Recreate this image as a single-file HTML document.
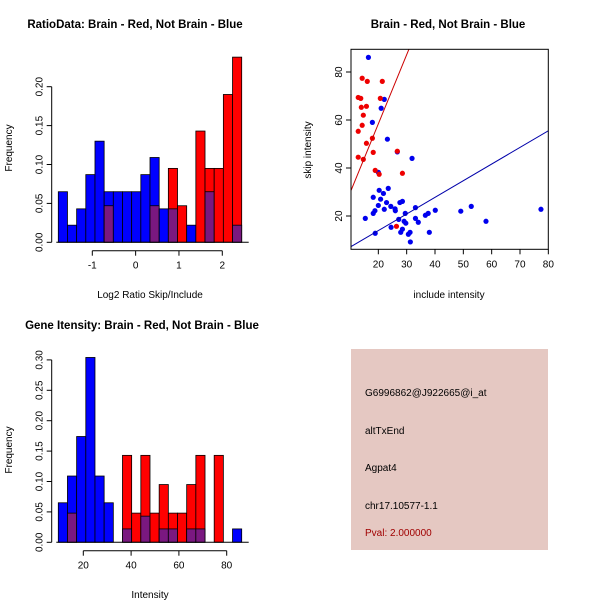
<!DOCTYPE html>
<html><head><meta charset="utf-8"><style>
body{margin:0;background:#fff}
svg{display:block;font-family:"Liberation Sans",sans-serif}
</style></head><body>
<svg id="c" width="600" height="600" xmlns="http://www.w3.org/2000/svg">
<rect width="600" height="600" fill="#fff"/>
<text x="135" y="28" font-size="11.5" font-weight="bold" text-anchor="middle">RatioData: Brain - Red, Not Brain - Blue</text>
<text x="448" y="28" font-size="11.5" font-weight="bold" text-anchor="middle">Brain - Red, Not Brain - Blue</text>
<text x="142" y="329" font-size="11.5" font-weight="bold" text-anchor="middle">Gene Itensity: Brain - Red, Not Brain - Blue</text>
<text x="150" y="298" font-size="10" text-anchor="middle">Log2 Ratio Skip/Include</text>
<text x="150" y="598" font-size="10" text-anchor="middle">Intensity</text>
<text x="449" y="298" font-size="10" text-anchor="middle">include intensity</text>
<text transform="translate(12,148) rotate(-90)" font-size="10" text-anchor="middle">Frequency</text>
<text transform="translate(12,450) rotate(-90)" font-size="10" text-anchor="middle">Frequency</text>
<text transform="translate(311,150) rotate(-90)" font-size="10" text-anchor="middle">skip intensity</text>
<g>
<rect x="351" y="349" width="197" height="201" fill="#e5c8c2"/>
<text x="365" y="396" font-size="10">G6996862@J922665@i_at</text>
<text x="365" y="434" font-size="10">altTxEnd</text>
<text x="365" y="471" font-size="10">Agpat4</text>
<text x="365" y="509" font-size="10">chr17.10577-1.1</text>
<text x="365" y="536" font-size="10" fill="#a00000">Pval: 2.000000</text>
</g>
</svg>
<script>
const ratioBlue=[0.065,0.022,0.043,0.087,0.13,0.065,0.065,0.065,0.065,0.087,0.109,0.043,0.043,0,0.022,0,0.065,0,0,0.022];
const ratioRed=[0,0,0,0,0,0.047,0,0,0,0,0.047,0,0.095,0.047,0,0.143,0.095,0.095,0.19,0.238];
const ratioYTicks=[0,0.05,0.10,0.15,0.20];
const ratioYLabels=["0.00","0.05","0.10","0.15","0.20"];
const ratioXTicks=[-1,0,1,2];
const intBlue=[0.065,0.109,0.174,0.304,0.109,0.065,0,0.022,0,0.043,0,0.022,0.022,0,0.022,0.022,0,0,0,0.022];
const intRed=[0,0.048,0,0,0,0,0,0.143,0.048,0.143,0.048,0.095,0.048,0.048,0.095,0.143,0,0.143,0,0];
const intYTicks=[0,0.05,0.10,0.15,0.20,0.25,0.30];
const intYLabels=["0.00","0.05","0.10","0.15","0.20","0.25","0.30"];
const intXTicks=[20,40,60,80];
const blueX=[16.5,22.1,21.0,17.9,23.2,26.7,31.9,20.0,23.5,20.3,21.8,18.2,20.8,28.5,27.6,22.9,20.0,24.4,33.1,25.9,26.0,22.1,18.8,18.2,29.5,40.1,37.6,36.6,49.1,52.8,77.4,58.0,33.1,34.1,27.2,29.1,29.7,15.4,24.5,28.5,27.9,18.9,31.2,30.6,38.0,31.3];
const blueY=[86.1,68.6,64.9,59.0,52.0,46.7,44.0,38.2,31.5,30.7,29.4,27.8,27.0,26.1,25.6,25.6,24.4,24.0,23.5,23.0,22.2,22.8,22.2,21.1,21.1,22.4,21.1,20.3,22.0,24.0,22.8,17.8,19.0,17.4,18.6,17.8,17.0,19.0,15.3,14.5,13.2,12.8,13.2,12.4,13.2,9.2];
const redX=[14.3,16.1,21.4,12.9,13.8,20.7,14.0,15.8,14.7,14.3,12.9,17.9,15.8,18.2,12.9,14.7,18.9,20.3,28.5,26.7,26.4];
const redY=[77.4,76.1,76.1,69.4,69.0,69.0,65.3,65.7,62.0,57.8,55.3,52.4,50.3,46.5,44.5,43.6,39.0,37.4,37.8,47.0,15.7];
const scXTicks=[20,30,40,50,60,70,80];
const scYTicks=[20,40,60,80];
const redLine=[2.88,0.8];
const blueLine=[0.693,0.06];

const svg=document.getElementById('c');const NS='http://www.w3.org/2000/svg';
function mk(t,a,p){const e=document.createElementNS(NS,t);for(const k in a)e.setAttribute(k,a[k]);(p||svg).appendChild(e);return e;}
function hist(name,blue,red,x0,ybase,bw,ppu,yTicks,yLabels,xTicks,xMap,axX,axY){
  const g=mk('g',{});
  
  
  const y=v=>ybase-v*ppu;
  blue.forEach((b,i)=>{const r=red[i];const x=x0+i*bw;const m=Math.min(b,r),M=Math.max(b,r);
    if(M<=0)return;
    const top=mk('rect',{x:x,y:y(M),width:bw,height:y(0)-y(M),fill:b>r?'#0000ff':'#ff0000',stroke:'#000','stroke-width':0.8},g);
    
    
    if(m>0){const o=mk('rect',{x:x,y:y(m),width:bw,height:y(0)-y(m),fill:'#7a1880',stroke:'#000','stroke-width':0.8},g);
      
      }
  });
  const t0=y(yTicks[0]),t1=y(yTicks[yTicks.length-1]);
  mk('line',{x1:axX,y1:t0,x2:axX,y2:t1,stroke:'#000'},g);
  yTicks.forEach((v,i)=>{mk('line',{x1:axX-5,y1:y(v),x2:axX,y2:y(v),stroke:'#000'},g);
    const tx=mk('text',{transform:`translate(${axX-9},${y(v)}) rotate(-90)`,'font-size':10,'text-anchor':'middle',fill:'#000'},g);tx.textContent=yLabels[i];});
  mk('line',{x1:xMap(xTicks[0]),y1:axY,x2:xMap(xTicks[xTicks.length-1]),y2:axY,stroke:'#000'},g);
  xTicks.forEach(v=>{mk('line',{x1:xMap(v),y1:axY,x2:xMap(v),y2:axY+5,stroke:'#000'},g);
    const tx=mk('text',{x:xMap(v),y:axY+18,'font-size':10,'text-anchor':'middle'},g);tx.textContent=v;});
  mk('line',{x1:x0-2,y1:ybase,x2:x0+blue.length*bw+7,y2:ybase,stroke:'#000'},g);
}
hist('ratio-histogram',ratioBlue,ratioRed,58.3,242.3,9.17,778,ratioYTicks,ratioYLabels,ratioXTicks,v=>92.3+(v+1)*43.33,51.7,250.7);
hist('intensity-histogram',intBlue,intRed,58.3,542.3,9.17,608,intYTicks,intYLabels,intXTicks,v=>83.3+(v-20)*2.39,51.7,550.7);

// scatter
const sx=v=>350+(v-10)*2.8333, sy=v=>264-v*2.4;
const L=351,R=548.3,T=49.3,B=249.3;
const g=mk('g',{});


const cp=mk('clipPath',{id:'cp'},g);
mk('rect',{x:L,y:T,width:R-L,height:B-T},cp);
const pg=mk('g',{'clip-path':'url(#cp)'},g);
blueX.forEach((v,i)=>{const c=mk('circle',{cx:sx(v),cy:sy(blueY[i]),r:2.6,fill:'#0000ee'},pg);
  
  });
redX.forEach((v,i)=>{const c=mk('circle',{cx:sx(v),cy:sy(redY[i]),r:2.6,fill:'#ee0000'},pg);
  
  });
const xa=10.3,xb=80;
const rl=mk('line',{x1:sx(xa),y1:sy(redLine[0]*xa+redLine[1]),x2:sx(xb),y2:sy(redLine[0]*xb+redLine[1]),stroke:'#cc0000'},pg);


const bl=mk('line',{x1:sx(xa),y1:sy(blueLine[0]*xa+blueLine[1]),x2:sx(xb),y2:sy(blueLine[0]*xb+blueLine[1]),stroke:'#0000aa'},pg);


mk('rect',{x:L,y:T,width:R-L,height:B-T,fill:'none',stroke:'#000'},g);
scXTicks.forEach(v=>{mk('line',{x1:sx(v),y1:B,x2:sx(v),y2:B+5,stroke:'#000'},g);
  const t=mk('text',{x:sx(v),y:B+18,'font-size':10,'text-anchor':'middle'},g);t.textContent=v;});
scYTicks.forEach(v=>{mk('line',{x1:L-5,y1:sy(v),x2:L,y2:sy(v),stroke:'#000'},g);
  const t=mk('text',{transform:`translate(${L-9},${sy(v)}) rotate(-90)`,'font-size':10,'text-anchor':'middle'},g);t.textContent=v;});
</script>
</body></html>
